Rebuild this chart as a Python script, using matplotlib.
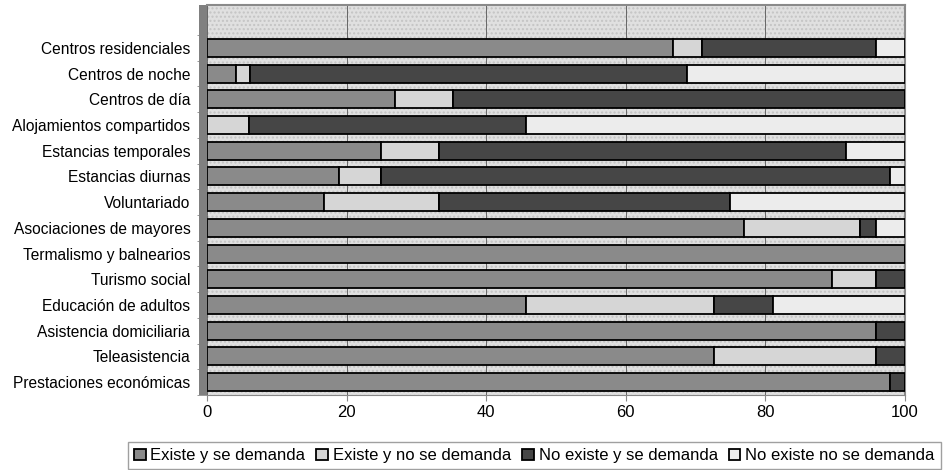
import matplotlib
matplotlib.use('Agg')
from matplotlib import pyplot as plt
from matplotlib.patches import Rectangle
import numpy as np

plt.rcParams['font.family'] = ['Liberation Sans', 'DejaVu Sans']

# Data (percentages)
categories = ['Centros residenciales', 'Centros de noche', 'Centros de día',
              'Alojamientos compartidos', 'Estancias temporales', 'Estancias diurnas',
              'Voluntariado', 'Asociaciones de mayores', 'Termalismo y balnearios',
              'Turismo social', 'Educación de adultos', 'Asistencia domiciliaria',
              'Teleasistencia', 'Prestaciones económicas']
series_names = ['Existe y se demanda', 'Existe y no se demanda',
                'No existe y se demanda', 'No existe no se demanda']
existe_demanda = [66.7, 4.1, 27.0, 0.0, 25.0, 18.9, 16.7, 77.0, 100.0, 89.5, 45.7, 95.9, 72.7, 97.8]
existe_no_demanda = [4.2, 2.0, 8.3, 6.0, 8.3, 6.0, 16.6, 16.6, 0.0, 6.4, 27.0, 0.0, 23.2, 0.0]
no_existe_demanda = [25.0, 62.6, 64.7, 39.7, 58.3, 72.9, 41.6, 2.3, 0.0, 4.1, 8.4, 4.1, 4.1, 2.2]
no_existe_no_demanda = [4.1, 31.3, 0.0, 54.3, 8.4, 2.2, 25.1, 4.1, 0.0, 0.0, 18.9, 0.0, 0.0, 0.0]
xticks = [0, 20, 40, 60, 80, 100]

colors = ['#8a8a8a', '#d6d6d6', '#464646', '#ececec']

fig = plt.figure(figsize=(9.43, 4.70), dpi=100)
ax = fig.add_axes([0.2195, 0.1596, 0.7402, 0.8298])

# textured-looking back wall
ax.set_facecolor('#e0e0e0')
ax.add_patch(Rectangle((0, 0), 1, 1, transform=ax.transAxes, facecolor='none',
                       edgecolor='#c4c4c4', hatch='....', linewidth=0, zorder=0))
# left side wall
ax.add_patch(Rectangle((-0.012, 0), 0.012, 1, transform=ax.transAxes, facecolor='#808080',
                       edgecolor='none', clip_on=False, zorder=1))

y = np.arange(len(categories))
data = [existe_demanda, existe_no_demanda, no_existe_demanda, no_existe_no_demanda]
left = np.zeros(len(categories))
for vals, col, name in zip(data, colors, series_names):
    vals = np.array(vals)
    ax.barh(y, vals, left=left, height=0.7, color=col, edgecolor='black',
            linewidth=1.3, label=name, zorder=3)
    left += vals

ax.set_xlim(0, 100)
ax.set_ylim(13.5, -1.67)
ax.set_xticks(xticks)
ax.set_xticklabels([str(v) for v in xticks], fontsize=12)
ax.grid(axis='x', color='#666666', linewidth=0.7, zorder=1)
ax.set_axisbelow(True)

ax.set_yticks(y)
ax.set_yticklabels(categories, fontsize=11.2)
ax.set_yticks(np.arange(-0.5, 13.6, 1.0), minor=True)
ax.tick_params(axis='y', which='major', length=0, pad=12)
ax.tick_params(axis='y', which='minor', length=7, color='#888888')
ax.tick_params(axis='x', length=4, color='#888888')

for s in ['top', 'right']:
    ax.spines[s].set_color('#8a8a8a')
    ax.spines[s].set_linewidth(1.5)
ax.spines['left'].set_visible(False)
ax.spines['bottom'].set_color('#888888')

leg = fig.legend(loc='lower left', bbox_to_anchor=(128 / 943, 1 / 470),
                 ncol=4, fontsize=12, frameon=True, fancybox=False,
                 handlelength=0.7, handleheight=0.7, handletextpad=0.3, columnspacing=0.65,
                 borderaxespad=0.0, borderpad=0.35)
leg.get_frame().set_edgecolor('#888888')
leg.get_frame().set_linewidth(1.0)

fig.savefig('out.png', dpi=100)
